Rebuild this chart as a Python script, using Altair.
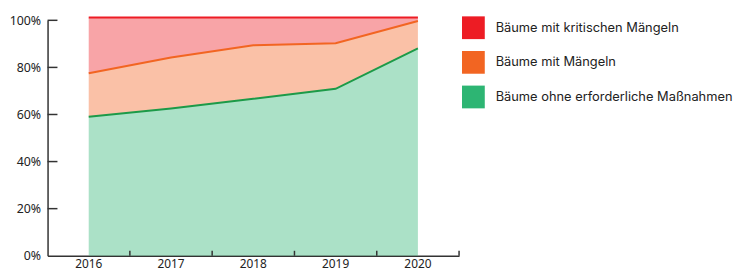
import altair as alt
import pandas as pd

years = ["2016", "2017", "2018", "2019", "2020"]
categories = ["Bäume mit kritischen Mängeln", "Bäume mit Mängeln", "Bäume ohne erforderliche Maßnahmen"]
green_vals = [59.0, 62.5, 66.7, 70.9, 88.1]
orange_vals = [18.5, 21.7, 22.7, 19.4, 11.6]
red_vals = [23.7, 17.0, 11.8, 10.9, 1.5]
y_ticks = [20, 40, 60, 80, 100]

colors = ["#ED1C24", "#F26522", "#2DB573"]
line_colors = ["#ED1C24", "#F26522", "#1C9A48"]

rows = []
for i, y in enumerate(years):
    rows.append({"year": y, "cat": categories[2], "ord": 0, "value": green_vals[i]})
    rows.append({"year": y, "cat": categories[1], "ord": 1, "value": orange_vals[i]})
    rows.append({"year": y, "cat": categories[0], "ord": 2, "value": red_vals[i]})
df = pd.DataFrame(rows)

FONT = "Noto Sans"

xenc = alt.X("year:N", scale=alt.Scale(type="band", paddingInner=0, paddingOuter=0),
             axis=alt.Axis(title=None, labelAngle=0, ticks=False, domainColor="#333",
                           domainWidth=1.5, labelPadding=3, labelFontSize=12,
                           labelColor="#222", labelFont=FONT))
yenc = alt.Y("value:Q", stack="zero",
             scale=alt.Scale(domain=[0, 100], nice=False),
             axis=alt.Axis(title=None, values=[0, 20, 40, 60, 80, 100], ticks=False,
                           grid=False, domainColor="#333", domainWidth=1.5,
                           labelPadding=7, labelFontSize=12.5, labelColor="#222",
                           labelFont=FONT, labelExpr="datum.value + '%'"))

area = alt.Chart(df).mark_area(fillOpacity=0.4, strokeWidth=0).encode(
    x=xenc,
    y=yenc,
    color=alt.Color("cat:N", scale=alt.Scale(domain=categories, range=colors),
                    legend=alt.Legend(title=None, orient="none", legendX=419, legendY=-4,
                                      symbolType="square", symbolSize=529,
                                      symbolOpacity=1, symbolStrokeWidth=0,
                                      labelFont="Inter", labelFontSize=13,
                                      labelColor="#222", labelOffset=11,
                                      labelLimit=0, rowPadding=12)),
    order=alt.Order("ord:Q"),
)

lines = alt.Chart(df).mark_line(strokeWidth=2).encode(
    x=alt.X("year:N"),
    y=alt.Y("value:Q", stack="zero"),
    color=alt.Color("cat:N", scale=alt.Scale(domain=categories, range=line_colors), legend=None),
    order=alt.Order("ord:Q"),
    detail="cat:N",
)

xt = alt.Chart(pd.DataFrame({"year": years})).mark_rule(color="#333", strokeWidth=1.5).encode(
    x=alt.X("year:N", bandPosition=1),
    y=alt.value(238),
    y2=alt.value(233),
)

yt = alt.Chart(pd.DataFrame({"v": y_ticks})).mark_rule(color="#333", strokeWidth=1.5).encode(
    y=alt.Y("v:Q"),
    x=alt.value(0),
    x2=alt.value(10),
)

chart = alt.layer(area, lines, xt, yt).resolve_scale(color="independent").properties(
    width=416, height=238,
    autosize=alt.AutoSizeParams(type="none"),
    padding={"left": 40, "top": 11, "right": 282, "bottom": 16},
).configure_view(stroke=None)

chart.save("out.html", embed_options={"renderer": "svg", "actions": False})
